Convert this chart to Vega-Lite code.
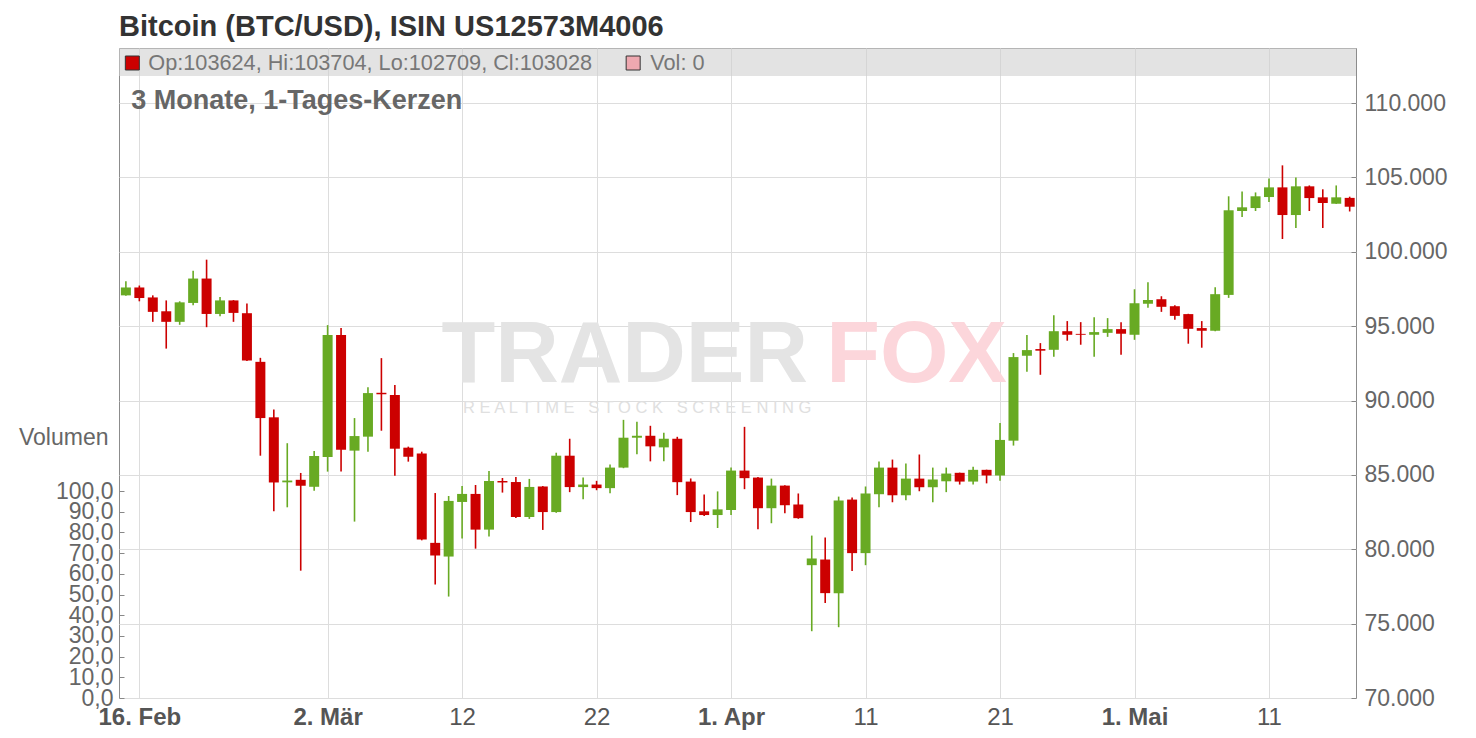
{
  "$schema": "https://vega.github.io/schema/vega-lite/v6.json",
  "autosize": {"type": "none"},
  "padding": {"left": 119, "top": 48, "right": 120, "bottom": 40},
  "width": 1237,
  "height": 650,
  "background": "white",
  "config": {"font": "Liberation Sans", "view": {"stroke": "#8c8c8c", "strokeWidth": 1}},
  "title": {"text": "Bitcoin (BTC/USD), ISIN US12573M4006", "anchor": "start", "frame": "group", "fontSize": 29, "fontWeight": "bold", "color": "#333333", "offset": 6},
  "datasets": {
    "ohlc": [
      {"date": "2025-02-15", "open": 97070, "high": 98020, "low": 97050, "close": 97600, "vol": 0},
      {"date": "2025-02-16", "open": 97600, "high": 97730, "low": 96670, "close": 96890, "vol": 0},
      {"date": "2025-02-17", "open": 96930, "high": 97070, "low": 95290, "close": 95960, "vol": 0},
      {"date": "2025-02-18", "open": 96000, "high": 96730, "low": 93490, "close": 95290, "vol": 0},
      {"date": "2025-02-19", "open": 95290, "high": 96670, "low": 95090, "close": 96600, "vol": 0},
      {"date": "2025-02-20", "open": 96560, "high": 98730, "low": 96400, "close": 98200, "vol": 0},
      {"date": "2025-02-21", "open": 98200, "high": 99470, "low": 94930, "close": 95820, "vol": 0},
      {"date": "2025-02-22", "open": 95820, "high": 96960, "low": 95670, "close": 96730, "vol": 0},
      {"date": "2025-02-23", "open": 96730, "high": 96750, "low": 95290, "close": 95890, "vol": 0},
      {"date": "2025-02-24", "open": 95870, "high": 96530, "low": 92650, "close": 92690, "vol": 0},
      {"date": "2025-02-25", "open": 92600, "high": 92870, "low": 86290, "close": 88820, "vol": 0},
      {"date": "2025-02-26", "open": 88870, "high": 89400, "low": 82560, "close": 84490, "vol": 0},
      {"date": "2025-02-27", "open": 84500, "high": 87130, "low": 82820, "close": 84620, "vol": 0},
      {"date": "2025-02-28", "open": 84670, "high": 85130, "low": 78560, "close": 84270, "vol": 0},
      {"date": "2025-03-01", "open": 84200, "high": 86600, "low": 83930, "close": 86270, "vol": 0},
      {"date": "2025-03-02", "open": 86200, "high": 95070, "low": 85220, "close": 94400, "vol": 0},
      {"date": "2025-03-03", "open": 94400, "high": 94870, "low": 85220, "close": 86690, "vol": 0},
      {"date": "2025-03-04", "open": 86630, "high": 88820, "low": 81860, "close": 87610, "vol": 0},
      {"date": "2025-03-05", "open": 87570, "high": 90900, "low": 86560, "close": 90500, "vol": 0},
      {"date": "2025-03-06", "open": 90520, "high": 92850, "low": 87970, "close": 90420, "vol": 0},
      {"date": "2025-03-07", "open": 90370, "high": 91040, "low": 84950, "close": 86760, "vol": 0},
      {"date": "2025-03-08", "open": 86830, "high": 86900, "low": 85890, "close": 86220, "vol": 0},
      {"date": "2025-03-09", "open": 86430, "high": 86560, "low": 80600, "close": 80650, "vol": 0},
      {"date": "2025-03-10", "open": 80430, "high": 83780, "low": 77630, "close": 79580, "vol": 0},
      {"date": "2025-03-11", "open": 79510, "high": 83580, "low": 76820, "close": 83250, "vol": 0},
      {"date": "2025-03-12", "open": 83180, "high": 84250, "low": 80720, "close": 83720, "vol": 0},
      {"date": "2025-03-13", "open": 83720, "high": 84320, "low": 80040, "close": 81320, "vol": 0},
      {"date": "2025-03-14", "open": 81320, "high": 85260, "low": 80850, "close": 84590, "vol": 0},
      {"date": "2025-03-15", "open": 84590, "high": 84790, "low": 83810, "close": 84490, "vol": 0},
      {"date": "2025-03-16", "open": 84520, "high": 84860, "low": 82100, "close": 82170, "vol": 0},
      {"date": "2025-03-17", "open": 82170, "high": 84730, "low": 82040, "close": 84190, "vol": 0},
      {"date": "2025-03-18", "open": 84220, "high": 84250, "low": 81300, "close": 82500, "vol": 0},
      {"date": "2025-03-19", "open": 82500, "high": 86490, "low": 82450, "close": 86290, "vol": 0},
      {"date": "2025-03-20", "open": 86290, "high": 87430, "low": 83840, "close": 84180, "vol": 0},
      {"date": "2025-03-21", "open": 84180, "high": 84820, "low": 83370, "close": 84350, "vol": 0},
      {"date": "2025-03-22", "open": 84350, "high": 84600, "low": 83970, "close": 84110, "vol": 0},
      {"date": "2025-03-23", "open": 84110, "high": 85690, "low": 83770, "close": 85490, "vol": 0},
      {"date": "2025-03-24", "open": 85490, "high": 88700, "low": 85450, "close": 87500, "vol": 0},
      {"date": "2025-03-25", "open": 87500, "high": 88570, "low": 86380, "close": 87630, "vol": 0},
      {"date": "2025-03-26", "open": 87630, "high": 88300, "low": 85910, "close": 86920, "vol": 0},
      {"date": "2025-03-27", "open": 86850, "high": 87830, "low": 85910, "close": 87430, "vol": 0},
      {"date": "2025-03-28", "open": 87430, "high": 87560, "low": 83640, "close": 84510, "vol": 0},
      {"date": "2025-03-29", "open": 84550, "high": 84760, "low": 81830, "close": 82500, "vol": 0},
      {"date": "2025-03-30", "open": 82550, "high": 83680, "low": 82240, "close": 82300, "vol": 0},
      {"date": "2025-03-31", "open": 82300, "high": 83890, "low": 81430, "close": 82680, "vol": 0},
      {"date": "2025-04-01", "open": 82640, "high": 85490, "low": 82300, "close": 85290, "vol": 0},
      {"date": "2025-04-02", "open": 85290, "high": 88230, "low": 84040, "close": 84780, "vol": 0},
      {"date": "2025-04-03", "open": 84820, "high": 84850, "low": 81350, "close": 82760, "vol": 0},
      {"date": "2025-04-04", "open": 82760, "high": 84750, "low": 81750, "close": 84280, "vol": 0},
      {"date": "2025-04-05", "open": 84280, "high": 84300, "low": 82420, "close": 82960, "vol": 0},
      {"date": "2025-04-06", "open": 83010, "high": 83750, "low": 82050, "close": 82090, "vol": 0},
      {"date": "2025-04-07", "open": 78930, "high": 80920, "low": 74490, "close": 79380, "vol": 0},
      {"date": "2025-04-08", "open": 79310, "high": 80790, "low": 76380, "close": 77050, "vol": 0},
      {"date": "2025-04-09", "open": 77050, "high": 83540, "low": 74760, "close": 83280, "vol": 0},
      {"date": "2025-04-10", "open": 83340, "high": 83480, "low": 78530, "close": 79740, "vol": 0},
      {"date": "2025-04-11", "open": 79740, "high": 84220, "low": 78930, "close": 83750, "vol": 0},
      {"date": "2025-04-12", "open": 83700, "high": 85900, "low": 82830, "close": 85490, "vol": 0},
      {"date": "2025-04-13", "open": 85490, "high": 86030, "low": 83160, "close": 83630, "vol": 0},
      {"date": "2025-04-14", "open": 83630, "high": 85760, "low": 83300, "close": 84750, "vol": 0},
      {"date": "2025-04-15", "open": 84750, "high": 86370, "low": 83900, "close": 84170, "vol": 0},
      {"date": "2025-04-16", "open": 84170, "high": 85490, "low": 83160, "close": 84690, "vol": 0},
      {"date": "2025-04-17", "open": 84570, "high": 85490, "low": 83840, "close": 85090, "vol": 0},
      {"date": "2025-04-18", "open": 85140, "high": 85150, "low": 84350, "close": 84550, "vol": 0},
      {"date": "2025-04-19", "open": 84550, "high": 85540, "low": 84350, "close": 85340, "vol": 0},
      {"date": "2025-04-20", "open": 85340, "high": 85350, "low": 84430, "close": 84960, "vol": 0},
      {"date": "2025-04-21", "open": 84960, "high": 88490, "low": 84600, "close": 87350, "vol": 0},
      {"date": "2025-04-22", "open": 87300, "high": 93190, "low": 86970, "close": 92920, "vol": 0},
      {"date": "2025-04-23", "open": 93010, "high": 94400, "low": 91940, "close": 93390, "vol": 0},
      {"date": "2025-04-24", "open": 93460, "high": 93860, "low": 91730, "close": 93350, "vol": 0},
      {"date": "2025-04-25", "open": 93410, "high": 95740, "low": 92940, "close": 94660, "vol": 0},
      {"date": "2025-04-26", "open": 94660, "high": 95340, "low": 94020, "close": 94420, "vol": 0},
      {"date": "2025-04-27", "open": 94480, "high": 95270, "low": 93750, "close": 94420, "vol": 0},
      {"date": "2025-04-28", "open": 94420, "high": 95600, "low": 92940, "close": 94600, "vol": 0},
      {"date": "2025-04-29", "open": 94550, "high": 95540, "low": 94280, "close": 94800, "vol": 0},
      {"date": "2025-04-30", "open": 94800, "high": 95270, "low": 93080, "close": 94490, "vol": 0},
      {"date": "2025-05-01", "open": 94420, "high": 97480, "low": 94080, "close": 96540, "vol": 0},
      {"date": "2025-05-02", "open": 96500, "high": 97950, "low": 96230, "close": 96750, "vol": 0},
      {"date": "2025-05-03", "open": 96810, "high": 97010, "low": 95960, "close": 96300, "vol": 0},
      {"date": "2025-05-04", "open": 96340, "high": 96410, "low": 95430, "close": 95690, "vol": 0},
      {"date": "2025-05-05", "open": 95810, "high": 95830, "low": 93820, "close": 94820, "vol": 0},
      {"date": "2025-05-06", "open": 94870, "high": 95340, "low": 93550, "close": 94690, "vol": 0},
      {"date": "2025-05-07", "open": 94690, "high": 97620, "low": 94650, "close": 97150, "vol": 0},
      {"date": "2025-05-08", "open": 97100, "high": 103730, "low": 96900, "close": 102790, "vol": 0},
      {"date": "2025-05-09", "open": 102740, "high": 104060, "low": 102340, "close": 102990, "vol": 0},
      {"date": "2025-05-10", "open": 102940, "high": 103990, "low": 102740, "close": 103730, "vol": 0},
      {"date": "2025-05-11", "open": 103680, "high": 104930, "low": 103350, "close": 104330, "vol": 0},
      {"date": "2025-05-12", "open": 104330, "high": 105810, "low": 100860, "close": 102470, "vol": 0},
      {"date": "2025-05-13", "open": 102470, "high": 105000, "low": 101600, "close": 104400, "vol": 0},
      {"date": "2025-05-14", "open": 104400, "high": 104460, "low": 102740, "close": 103610, "vol": 0},
      {"date": "2025-05-15", "open": 103660, "high": 104200, "low": 101600, "close": 103280, "vol": 0},
      {"date": "2025-05-16", "open": 103230, "high": 104460, "low": 103220, "close": 103660, "vol": 0},
      {"date": "2025-05-17", "open": 103624, "high": 103704, "low": 102709, "close": 103028, "vol": 0}
    ]
  },
  "layer": [
    {
      "layer": [
        {
          "data": {"values": [{}]},
          "mark": {"type": "rect", "color": "#d0d0d0", "opacity": 0.6},
          "encoding": {
            "x": {"datum": {"year": 2025, "month": 2, "date": 14, "hours": 11, "minutes": 42, "utc": true}, "type": "temporal"},
            "x2": {"datum": {"year": 2025, "month": 5, "date": 17, "hours": 11, "minutes": 17, "utc": true}},
            "y": {"datum": 111817, "type": "quantitative", "title": null},
            "y2": {"datum": 113700}
          }
        },
        {
          "data": {"values": [{"t": "TRADER"}]},
          "mark": {"type": "text", "fontSize": 88, "fontWeight": "bold", "color": "#e4e4e4", "align": "right", "baseline": "middle"},
          "encoding": {
            "x": {"datum": {"year": 2025, "month": 4, "date": 6, "hours": 17, "minutes": 30, "utc": true}, "type": "temporal"},
            "y": {"datum": 92993, "type": "quantitative", "title": null},
            "text": {"field": "t"}
          }
        },
        {
          "data": {"values": [{"t": "FOX"}]},
          "mark": {"type": "text", "fontSize": 88, "fontWeight": "bold", "color": "#fcd6db", "align": "left", "baseline": "middle"},
          "encoding": {
            "x": {"datum": {"year": 2025, "month": 4, "date": 8, "hours": 1, "minutes": 40, "utc": true}, "type": "temporal"},
            "y": {"datum": 92993, "type": "quantitative", "title": null},
            "text": {"field": "t"}
          }
        },
        {
          "data": {"values": [{"t": "R E A L T I M E \u00a0 S T O C K \u00a0 S C R E E N I N G"}]},
          "mark": {"type": "text", "fontSize": 16.5, "color": "#e0e0e0", "align": "center", "baseline": "middle"},
          "encoding": {
            "x": {"datum": {"year": 2025, "month": 3, "date": 25, "hours": 0, "minutes": 30, "utc": true}, "type": "temporal"},
            "y": {"datum": 89497, "type": "quantitative", "title": null},
            "text": {"field": "t"}
          }
        },
        {
          "data": {"name": "ohlc"},
          "mark": {"type": "rule", "strokeWidth": 1.6},
          "encoding": {
            "x": {
              "field": "date", "type": "temporal", "title": null,
              "scale": {"type": "utc", "padding": 0, "domain": [
                {"year": 2025, "month": 2, "date": 14, "hours": 11, "minutes": 42, "utc": true},
                {"year": 2025, "month": 5, "date": 17, "hours": 11, "minutes": 17, "utc": true}
              ]},
              "axis": {
                "values": [
                  {"year": 2025, "month": 2, "date": 16, "utc": true},
                  {"year": 2025, "month": 3, "date": 2, "utc": true},
                  {"year": 2025, "month": 3, "date": 12, "utc": true},
                  {"year": 2025, "month": 3, "date": 22, "utc": true},
                  {"year": 2025, "month": 4, "date": 1, "utc": true},
                  {"year": 2025, "month": 4, "date": 11, "utc": true},
                  {"year": 2025, "month": 4, "date": 21, "utc": true},
                  {"year": 2025, "month": 5, "date": 1, "utc": true},
                  {"year": 2025, "month": 5, "date": 11, "utc": true}
                ],
                "labelExpr": "utcdate(datum.value) == 16 ? '16. Feb' : (utcmonth(datum.value) == 2 && utcdate(datum.value) == 2) ? '2. Mär' : utcdate(datum.value) == 1 ? (utcmonth(datum.value) == 3 ? '1. Apr' : '1. Mai') : '' + utcdate(datum.value)",
                "labelFontSize": 24,
                "labelColor": "#555555",
                "labelFontWeight": {"condition": {"test": "utcdate(datum.value) == 16 || utcdate(datum.value) <= 2", "value": "bold"}, "value": "normal"},
                "labelFlush": false,
                "labelOverlap": false,
                "labelPadding": 7,
                "grid": true,
                "gridColor": "#dddddd",
                "domain": false,
                "ticks": false,
                "title": null
              }
            },
            "y": {
              "field": "low", "type": "quantitative", "title": null,
              "scale": {"domain": [70000, 113700], "nice": false, "zero": false},
              "axis": {
                "orient": "right",
                "values": [70000, 75000, 80000, 85000, 90000, 95000, 100000, 105000, 110000],
                "labelExpr": "replace(format(datum.value, ','), ',', '.')",
                "labelFontSize": 23,
                "labelColor": "#666666",
                "labelPadding": 13,
                "grid": true,
                "gridColor": "#dddddd",
                "domain": false,
                "ticks": true,
                "tickSize": -5,
                "tickColor": "#888888",
                "title": null
              }
            },
            "y2": {"field": "high"},
            "color": {"condition": {"test": "datum.close >= datum.open", "value": "#68aa23"}, "value": "#cc0000"}
          }
        },
        {
          "data": {"name": "ohlc"},
          "mark": {"type": "bar", "width": 10},
          "encoding": {
            "x": {"field": "date", "type": "temporal"},
            "y": {"field": "open", "type": "quantitative", "title": null},
            "y2": {"field": "close"},
            "color": {"condition": {"test": "datum.close >= datum.open", "value": "#68aa23"}, "value": "#cc0000"}
          }
        },
        {
          "data": {"values": [{}]},
          "mark": {"type": "point", "shape": "square", "size": 196, "filled": true, "color": "#cc0000", "stroke": "#333333", "strokeWidth": 1, "opacity": 1},
          "encoding": {
            "x": {"datum": {"year": 2025, "month": 2, "date": 15, "hours": 11, "minutes": 30, "utc": true}, "type": "temporal"},
            "y": {"datum": 112691, "type": "quantitative", "title": null}
          }
        },
        {
          "data": {"values": [{}]},
          "mark": {"type": "point", "shape": "square", "size": 196, "filled": true, "color": "#eea8b0", "stroke": "#333333", "strokeWidth": 1, "opacity": 1},
          "encoding": {
            "x": {"datum": {"year": 2025, "month": 3, "date": 24, "hours": 17, "minutes": 17, "utc": true}, "type": "temporal"},
            "y": {"datum": 112691, "type": "quantitative", "title": null}
          }
        },
        {
          "data": {"values": [{"t": "Op:103624, Hi:103704, Lo:102709, Cl:103028"}]},
          "mark": {"type": "text", "fontSize": 21.7, "color": "#777777", "align": "left", "baseline": "middle"},
          "encoding": {
            "x": {"datum": {"year": 2025, "month": 2, "date": 16, "hours": 16, "minutes": 0, "utc": true}, "type": "temporal"},
            "y": {"datum": 112691, "type": "quantitative", "title": null},
            "text": {"field": "t"}
          }
        },
        {
          "data": {"values": [{"t": "Vol: 0"}]},
          "mark": {"type": "text", "fontSize": 21.7, "color": "#777777", "align": "left", "baseline": "middle"},
          "encoding": {
            "x": {"datum": {"year": 2025, "month": 3, "date": 25, "hours": 23, "minutes": 45, "utc": true}, "type": "temporal"},
            "y": {"datum": 112691, "type": "quantitative", "title": null},
            "text": {"field": "t"}
          }
        },
        {
          "data": {"values": [{"t": "3 Monate, 1-Tages-Kerzen"}]},
          "mark": {"type": "text", "fontSize": 27, "fontWeight": "bold", "color": "#666666", "align": "left", "baseline": "middle"},
          "encoding": {
            "x": {"datum": {"year": 2025, "month": 2, "date": 15, "hours": 9, "minutes": 36, "utc": true}, "type": "temporal"},
            "y": {"datum": 110137, "type": "quantitative", "title": null},
            "text": {"field": "t"}
          }
        }
      ]
    },
    {
      "data": {"name": "ohlc"},
      "mark": {"type": "bar", "width": 10, "color": "#eea8b0"},
      "encoding": {
        "x": {"field": "date", "type": "temporal"},
        "y": {
          "field": "vol", "type": "quantitative",
          "scale": {"domain": [0, 100], "range": [650, 443], "nice": false},
          "axis": {
            "orient": "left",
            "values": [0, 10, 20, 30, 40, 50, 60, 70, 80, 90, 100],
            "labelExpr": "replace(format(datum.value, '.1f'), '.', ',')",
            "labelFontSize": 23,
            "labelColor": "#666666",
            "labelPadding": 11,
            "labelOverlap": false,
            "grid": false,
            "domain": false,
            "ticks": true,
            "tickSize": -5,
            "tickColor": "#888888",
            "title": "Volumen",
            "titleAngle": 0,
            "titleAlign": "right",
            "titleBaseline": "middle",
            "titleX": -11,
            "titleY": 389,
            "titleFontSize": 23,
            "titleFontWeight": "normal",
            "titleColor": "#666666"
          }
        }
      }
    }
  ],
  "resolve": {"scale": {"y": "independent"}, "axis": {"y": "independent"}}
}
